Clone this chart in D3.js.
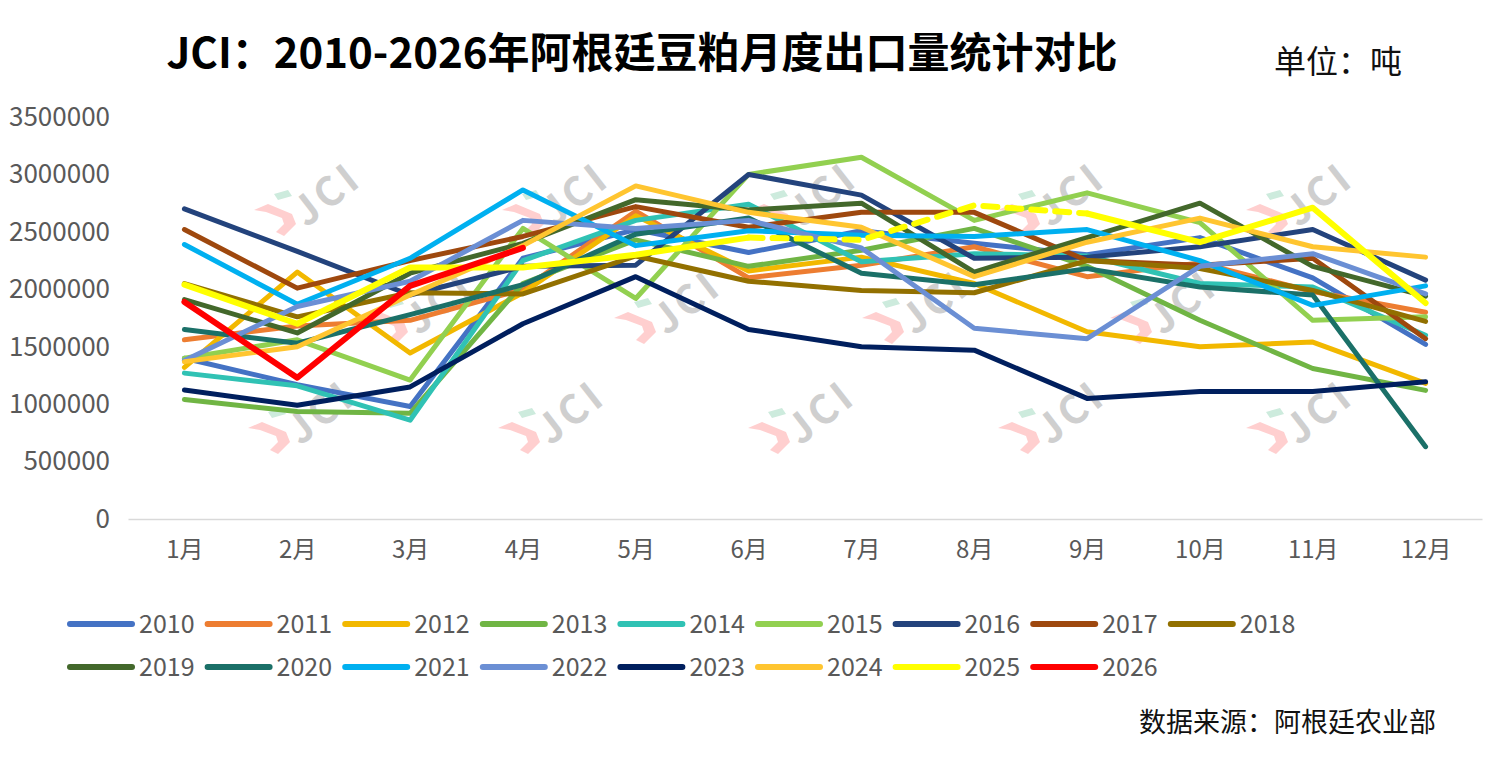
<!DOCTYPE html>
<html><head><meta charset="utf-8">
<script src="https://cdn.jsdelivr.net/npm/d3@7/dist/d3.min.js"></script>
<style>
html,body{margin:0;padding:0;background:#fff;}
text{font-family:"Noto Sans CJK SC","Noto Sans",sans-serif;}
</style></head><body>
<svg id="c" width="1496" height="765"></svg>
<script>
const months = ["1月","2月","3月","4月","5月","6月","7月","8月","9月","10月","11月","12月"];
const yTicks = [0,500000,1000000,1500000,2000000,2500000,3000000,3500000];
const years = ["2010","2011","2012","2013","2014","2015","2016","2017","2018","2019","2020","2021","2022","2023","2024","2025","2026"];
const v2010 = [1400000,1170000,980000,2270000,2520000,2320000,2510000,2400000,2300000,2450000,2100000,1520000];
const v2011 = [1560000,1680000,1730000,2000000,2680000,2100000,2210000,2370000,2110000,2230000,1980000,1800000];
const v2012 = [1320000,2150000,1445000,1970000,2640000,2160000,2280000,2050000,1630000,1500000,1540000,1180000];
const v2013 = [1040000,935000,920000,2050000,2430000,2200000,2340000,2530000,2200000,1730000,1310000,1120000];
const v2014 = [1270000,1160000,860000,2250000,2600000,2740000,2240000,2310000,2290000,2050000,2020000,1600000];
const v2015 = [1400000,1560000,1210000,2530000,1920000,3000000,3150000,2600000,2840000,2580000,1730000,1760000];
const v2016 = [2700000,2330000,1950000,2200000,2210000,3000000,2820000,2270000,2280000,2370000,2520000,2080000];
const v2017 = [2520000,2010000,2250000,2460000,2720000,2540000,2670000,2670000,2250000,2210000,2270000,1570000];
const v2018 = [2050000,1760000,1970000,1960000,2290000,2070000,1990000,1970000,2250000,2180000,1990000,1720000];
const v2019 = [1910000,1620000,2140000,2400000,2780000,2690000,2750000,2150000,2450000,2750000,2200000,1940000];
const v2020 = [1650000,1530000,1780000,2040000,2480000,2620000,2140000,2040000,2180000,2020000,1950000,630000];
const v2021 = [2390000,1870000,2270000,2865000,2380000,2510000,2470000,2460000,2520000,2250000,1860000,2030000];
const v2022 = [1380000,1850000,2070000,2600000,2530000,2600000,2360000,1660000,1570000,2200000,2310000,1960000];
const v2023 = [1123000,990000,1150000,1700000,2110000,1650000,1500000,1470000,1050000,1110000,1110000,1195000];
const v2024 = [1370000,1500000,1950000,2380000,2900000,2670000,2540000,2110000,2410000,2620000,2370000,2280000];
const v2025 = [2040000,1700000,2190000,2190000,2300000,2450000,2430000,2730000,2660000,2410000,2710000,1880000];
const v2026 = [1890000,1230000,2030000,2360000];
const values = [v2010,v2011,v2012,v2013,v2014,v2015,v2016,v2017,v2018,v2019,v2020,v2021,v2022,v2023,v2024,v2025,v2026];

const colors = ["#4472C4","#ED7D31","#F2B800","#70B544","#30C2B4","#92D050","#23437C","#9E480E","#927000","#43682B","#1B7068","#00B0F0","#6B8FD4","#001F5E","#FFC530","#FFFF00","#FF0000"];
const dashedFrom = 5, dashedTo = 8; // 2025: 6月→9月 dashed (index)

const svg = d3.select("#c");
const x = d3.scalePoint().domain(months).range([128,1482]).padding(0.5);
const y = d3.scaleLinear().domain([0,3500000]).range([519,117]);

// watermarks
const wm = svg.append("g").attr("class","wm");
const wmPos = [];
[328,576,824,1072,1320].forEach(cx=>wmPos.push([cx,196]));
[440,688,936,1184].forEach(cx=>wmPos.push([cx,304]));
[322,572,822,1072,1320].forEach(cx=>wmPos.push([cx,414]));
wmPos.forEach(([cx,cy])=>{
  const g = wm.append("g").attr("transform",`translate(${cx},${cy}) rotate(-38)`);
  g.append("text").attr("x",0).attr("y",12).attr("text-anchor","middle")
   .attr("font-size",40).attr("font-weight","bold").attr("fill","#CFCFCF").attr("letter-spacing",4).text("JCI");
  const l = wm.append("g").attr("transform",`translate(${cx-52},${cy+20})`);
  l.append("path").attr("d","M-22,-6 L-8,-12 L16,-2 L20,8 L8,20 L0,16 L8,8 L6,2 L-10,-4 Z").attr("fill","#FFCFCF");
  l.append("path").attr("d","M-2,-22 L12,-26 L16,-20 L2,-16 Z").attr("fill","#CDEBDD");
});

// x axis
const xa = svg.append("g").attr("transform","translate(0,519)")
  .call(d3.axisBottom(x).tickSize(0).tickPadding(22));
xa.select(".domain").attr("stroke","#D9D9D9").attr("stroke-width",1.5);
xa.selectAll("text").attr("font-size",24).attr("fill","#595959").attr("font-family","Noto Sans CJK SC");

// y axis
const ya = svg.append("g").attr("transform","translate(128,0)")
  .call(d3.axisLeft(y).tickValues(yTicks).tickFormat(d3.format("d")).tickSize(0).tickPadding(18));
ya.select(".domain").remove();
ya.selectAll("text").attr("font-size",26).attr("fill","#595959").attr("font-family","Noto Sans CJK SC");

// lines
const line = d3.line().x((d,i)=>x(months[i])).y(d=>y(d));
const lineIdx = d3.line().x(d=>x(months[d[0]])).y(d=>y(d[1]));
const lg = svg.append("g").attr("fill","none").attr("stroke-linejoin","round");
values.forEach((vals,k)=>{
  const w = (years[k]==="2025"||years[k]==="2026") ? 6 : 5;
  if (years[k]==="2025") {
    const pts = vals.map((v,i)=>[i,v]);
    lg.append("path").attr("d",lineIdx(pts.slice(0,dashedFrom+1))).attr("stroke",colors[k]).attr("stroke-width",w).attr("stroke-linecap","round");
    lg.append("path").attr("d",lineIdx(pts.slice(dashedFrom,dashedTo+1))).attr("stroke",colors[k]).attr("stroke-width",w)
      .attr("stroke-dasharray","14,10").attr("stroke-linecap","round");
    lg.append("path").attr("d",lineIdx(pts.slice(dashedTo))).attr("stroke",colors[k]).attr("stroke-width",w).attr("stroke-linecap","round");
  } else {
    lg.append("path").attr("d",line(vals)).attr("stroke",colors[k]).attr("stroke-width",w).attr("stroke-linecap","round");
  }
});

// title
svg.append("text").attr("x",642).attr("y",68).attr("text-anchor","middle").attr("font-size",42).attr("font-weight","bold").attr("fill","#000")
  .text("JCI：2010-2026年阿根廷豆粕月度出口量统计对比");
svg.append("text").attr("x",1274).attr("y",73).attr("font-size",32).attr("fill","#111").text("单位：吨");
svg.append("text").attr("x",1436).attr("y",732).attr("text-anchor","end").attr("font-size",27).attr("fill","#111").text("数据来源：阿根廷农业部");

// legend
const leg = svg.append("g");
years.forEach((yr,i)=>{
  const row = Math.floor(i/9), col = i%9;
  const gx = 70 + col*137.6, gy = 624 + row*43;
  const g = leg.append("g").attr("transform",`translate(${gx},${gy})`);
  g.append("line").attr("x1",0).attr("x2",62).attr("y1",0).attr("y2",0).attr("stroke",colors[i]).attr("stroke-width",6).attr("stroke-linecap","round");
  g.append("text").attr("x",69).attr("y",9).attr("font-size",25).attr("fill","#595959").text(yr);
});
</script>
</body></html>
